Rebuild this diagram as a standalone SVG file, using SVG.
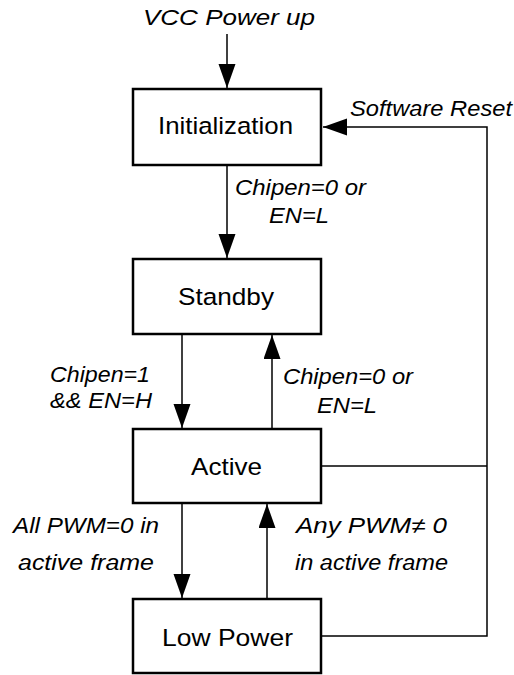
<svg xmlns="http://www.w3.org/2000/svg" width="514" height="675" viewBox="0 0 514 675">
<style>
.box{fill:#fff;stroke:#000;stroke-width:2.5}
.bt{font-family:"Liberation Sans",Arial,sans-serif;font-size:24.5px;fill:#000;text-anchor:start}
.lb{font-family:"Liberation Sans",Arial,sans-serif;font-size:22px;font-style:italic;fill:#000}
.ln{fill:none;stroke:#000;stroke-width:1.5}
</style>
<defs>
<marker id="ah" markerUnits="userSpaceOnUse" markerWidth="26" markerHeight="18" refX="24" refY="8.5" orient="auto">
<path d="M0,0 L24,8.5 L0,17 Z" fill="#000"/>
</marker>
</defs>
<g id="connectors">
<line class="ln" x1="227" y1="34" x2="227" y2="88" marker-end="url(#ah)"/>
<line class="ln" x1="227" y1="165" x2="227" y2="258" marker-end="url(#ah)"/>
<line class="ln" x1="182" y1="334" x2="182" y2="428" marker-end="url(#ah)"/>
<line class="ln" x1="272" y1="429" x2="272" y2="335" marker-end="url(#ah)"/>
<line class="ln" x1="182" y1="503" x2="182" y2="598" marker-end="url(#ah)"/>
<line class="ln" x1="267" y1="599" x2="267" y2="504" marker-end="url(#ah)"/>
<polyline class="ln" points="321,466 487,466"/>
<polyline class="ln" points="321,636 487,636 487,127 323,127" marker-end="url(#ah)"/>
<text class="lb" x="143" y="25" textLength="172" lengthAdjust="spacingAndGlyphs">VCC Power up</text>
<text class="lb" x="350" y="116" textLength="162" lengthAdjust="spacingAndGlyphs">Software Reset</text>
<text class="lb" x="235" y="195" textLength="131" lengthAdjust="spacingAndGlyphs">Chipen=0 or</text>
<text class="lb" x="269" y="223" textLength="60" lengthAdjust="spacingAndGlyphs">EN=L</text>
<text class="lb" x="50" y="382" textLength="100" lengthAdjust="spacingAndGlyphs">Chipen=1</text>
<text class="lb" x="50" y="408" textLength="102" lengthAdjust="spacingAndGlyphs">&amp;&amp; EN=H</text>
<text class="lb" x="283" y="384" textLength="130" lengthAdjust="spacingAndGlyphs">Chipen=0 or</text>
<text class="lb" x="317" y="413" textLength="60" lengthAdjust="spacingAndGlyphs">EN=L</text>
<text class="lb" x="13" y="533" textLength="146" lengthAdjust="spacingAndGlyphs">All PWM=0 in</text>
<text class="lb" x="18" y="570" textLength="136" lengthAdjust="spacingAndGlyphs">active  frame</text>
<text class="lb" x="296" y="533" textLength="151" lengthAdjust="spacingAndGlyphs">Any PWM≠ 0</text>
<text class="lb" x="295" y="570" textLength="153" lengthAdjust="spacingAndGlyphs">in active frame</text>
</g>
<g id="initialization">
<rect class="box" x="133" y="89" width="188" height="76"/>
<text class="bt" x="158" y="134" textLength="135" lengthAdjust="spacingAndGlyphs">Initialization</text>
</g>
<g id="standby">
<rect class="box" x="133" y="259" width="188" height="75"/>
<text class="bt" x="178" y="305" textLength="96" lengthAdjust="spacingAndGlyphs">Standby</text>
</g>
<g id="active">
<rect class="box" x="133" y="429" width="188" height="74"/>
<text class="bt" x="191" y="475" textLength="71" lengthAdjust="spacingAndGlyphs">Active</text>
</g>
<g id="lowpower">
<rect class="box" x="133" y="599" width="188" height="74"/>
<text class="bt" x="162" y="646" textLength="131" lengthAdjust="spacingAndGlyphs">Low Power</text>
</g>
</svg>
